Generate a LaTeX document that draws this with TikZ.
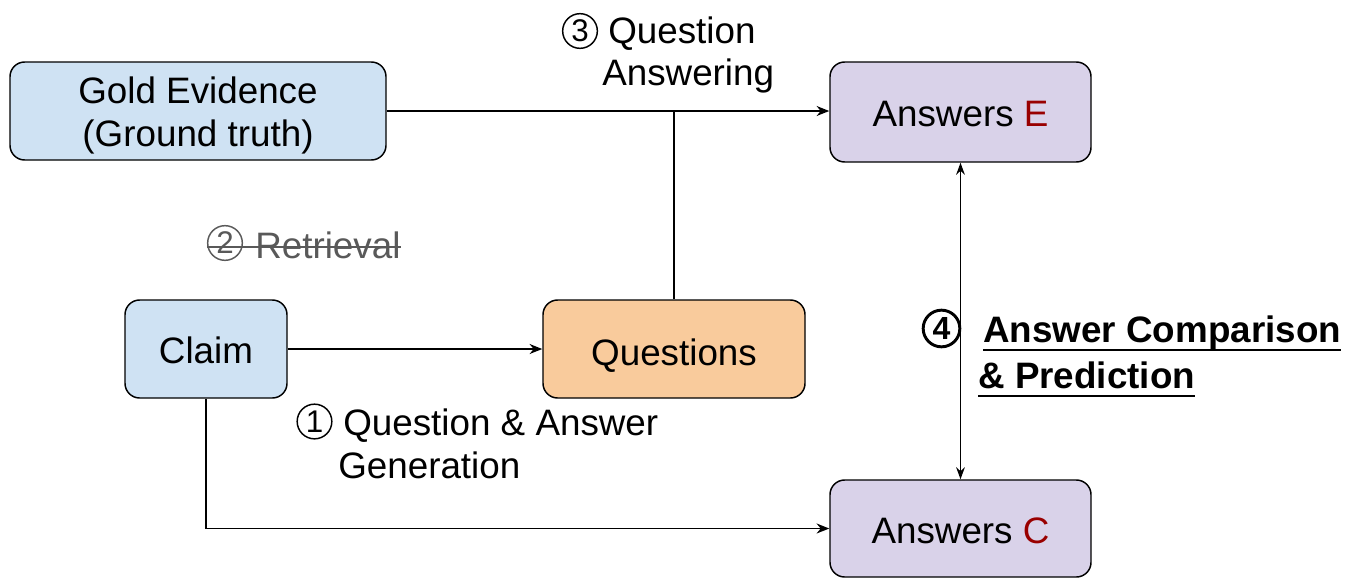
\documentclass[tikz,border=0pt]{standalone}
\usepackage{fontspec}
\setmainfont{Liberation Sans}
\usetikzlibrary{arrows.meta}
\definecolor{blueF}{HTML}{CFE2F3}
\definecolor{lavF}{HTML}{D9D2E9}
\definecolor{orangeF}{HTML}{F9CB9C}
\definecolor{darkred}{HTML}{990000}
\definecolor{retgray}{HTML}{595959}
\newcommand{\lowtext}[2]{\smash{\raisebox{-#1}{#2}}}
\begin{document}
\begin{tikzpicture}[x=0.75pt,y=-0.75pt,
  font=\fontsize{27.6}{32.3}\selectfont,
  box/.style={draw=black, line width=1.1pt, rounded corners=11pt, align=center, inner sep=0pt},
  conn/.style={line width=1.3pt, draw=black},
  arr/.style={conn, -{Stealth[length=9.5pt,width=7.5pt]}},
  lbl/.style={anchor=base west, inner sep=0pt},
  circ/.style={circle, draw, line width=1.1pt, minimum size=26pt, inner sep=0pt, font=\fontsize{23.5}{23.5}\selectfont},
  uline/.style={line width=2pt, draw=black}]
\useasboundingbox (0,0) rectangle (1349,578);
\node[box, fill=blueF, minimum width=282pt, minimum height=73.5pt] (gold) at (198,111) {\lowtext{-6pt}{\begin{tabular}[t]{@{}c@{}}Gold Evidence\\(Ground truth)\end{tabular}}};
\node[box, fill=lavF, minimum width=195.75pt, minimum height=75pt] (ansE) at (960.5,112) {\lowtext{10.5pt}{Answers \textcolor{darkred}{E}}};
\node[box, fill=blueF, minimum width=121.5pt, minimum height=73.5pt] (claim) at (206,349) {\lowtext{10.5pt}{Claim}};
\node[box, fill=orangeF, minimum width=196.5pt, minimum height=73.5pt] (qs) at (674,349) {\lowtext{12pt}{Questions}};
\node[box, fill=lavF, minimum width=195.75pt, minimum height=72.75pt] (ansC) at (960.5,528.5) {\lowtext{10.9pt}{Answers \textcolor{darkred}{C}}};

\draw[arr] (gold.east) -- (gold.east -| ansE.west);
\draw[conn] (qs.north) -- (qs.north |- gold.east);
\draw[arr] (claim.east) -- (qs.west);
\draw[arr] (claim.south) |- (ansC.west);
\draw[conn, {Stealth[length=9pt,width=6.5pt]}-{Stealth[length=9pt,width=6.5pt]}] (ansE.south) -- (ansC.north);

\node[circ] (c3) at (580,31) {3};
\node[lbl] (l3a) at (608,43) {Question};
\node[lbl] (l3b) at (602,85) {Answering};

\node[circ, draw=retgray, text=retgray] (c2) at (225,243) {2};
\node[lbl, text=retgray] (ret) at (255,258) {Retrieval};
\draw[retgray, line width=1.6pt] (c2.west |- 0,247) -- (ret.east |- 0,247);

\node[circ] (c1) at (314.5,421.5) {1};
\node[lbl] (l1a) at (343,435) {Question \& Answer};
\node[lbl] (l1b) at (338,478) {Generation};

\node[circ, line width=2.2pt, minimum size=27.5pt, font=\fontsize{24}{24}\selectfont\bfseries] (c4) at (941.5,328.5) {4};
\node[lbl] (l4a) at (983,342) {\bfseries Answer Comparison};
\node[lbl] (l4b) at (978,388) {\bfseries \& Prediction};
\draw[uline] ([yshift=-6pt]l4a.base west) -- ([yshift=-6pt]l4a.base east);
\draw[uline] ([yshift=-6pt]l4b.base west) -- ([yshift=-6pt]l4b.base east);
\end{tikzpicture}
\end{document}
